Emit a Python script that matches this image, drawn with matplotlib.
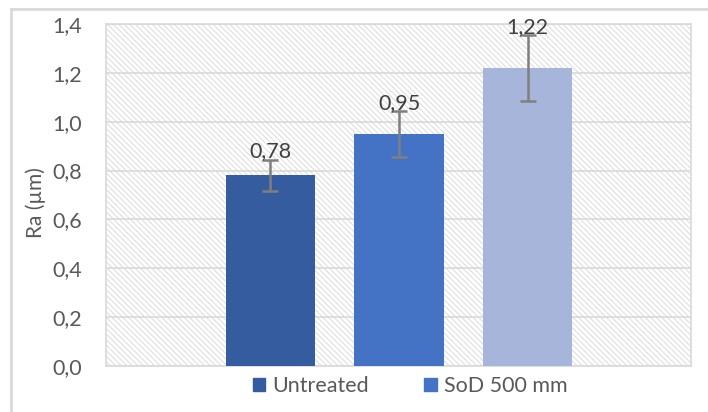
import matplotlib.pyplot as plt
import matplotlib.patches as mpatches
import numpy as np

# values
labels = ["Untreated", "SoD 500 mm", "SoD 300 mm"]
ra_values = [0.78, 0.95, 1.22]
ra_errors = [0.065, 0.095, 0.135]
bar_colors = ["#345C9F", "#4472C4", "#A7B5DB"]
value_labels = ["0,78", "0,95", "1,22"]
yticks = [0.0, 0.2, 0.4, 0.6, 0.8, 1.0, 1.2, 1.4]
ytick_labels = ["0,0", "0,2", "0,4", "0,6", "0,8", "1,0", "1,2", "1,4"]

plt.rcParams['font.family'] = ['Lato', 'DejaVu Sans']
plt.rcParams['hatch.linewidth'] = 0.6
plt.rcParams['hatch.color'] = '#D6D6D6'
text_col = '#595959'

fig = plt.figure(figsize=(7.08, 4.12), dpi=100)
ax = fig.add_axes([106/708, 46/412, 585/708, 342/412])

# outer chart border (top and left visible)
fig.add_artist(plt.Line2D([11/708, 1], [1 - 9/412, 1 - 9/412], transform=fig.transFigure,
                          color='#D9D9D9', lw=2))
fig.add_artist(plt.Line2D([11/708, 11/708], [0, 1 - 9/412], transform=fig.transFigure,
                          color='#D9D9D9', lw=2))

# hatched plot area
ax.patch.set_facecolor('white')
bg = mpatches.Rectangle((0, 0), 1, 1, transform=ax.transAxes, facecolor='white',
                        edgecolor='#D6D6D6', hatch='\\\\\\\\\\\\', lw=0, zorder=0)
ax.add_patch(bg)

x = np.arange(len(ra_values))
bars = ax.bar(x, ra_values, width=0.693, color=bar_colors, zorder=3)
ax.errorbar(x, ra_values, yerr=ra_errors, fmt='none', ecolor='#7F7F7F',
            elinewidth=1.8, capsize=6, capthick=1.8, zorder=4)

for xi, v, e, t in zip(x, ra_values, ra_errors, value_labels):
    ax.text(xi, v + e - 0.008, t, ha='center', va='bottom', fontsize=15.5, color='#404040', zorder=5)

ax.set_xlim(-1.28, 3.272)
ax.set_ylim(0, 1.4)
ax.set_yticks(yticks)
ax.set_yticklabels(ytick_labels, fontsize=15.5, color=text_col)
ax.set_xticks([])
ax.tick_params(axis='y', length=0, pad=17)
ax.yaxis.grid(True, color='#D9D9D9', lw=1.2, zorder=1)
ax.set_axisbelow(True)
for s in ax.spines.values():
    s.set_color('#D9D9D9')
    s.set_linewidth(1.2)

ax.set_ylabel("Ra (µm)", fontsize=15, color=text_col)
ax.yaxis.set_label_coords(-0.103, 0.477)

handles = [mpatches.Patch(color=bar_colors[0]), mpatches.Patch(color=bar_colors[1])]
fig.legend(handles, labels[:2], loc='center', bbox_to_anchor=(410/708, 1 - 386/412),
           ncol=2, frameon=False, fontsize=15.5, handlelength=0.6, handleheight=0.6,
           handletextpad=0.3, columnspacing=2.6, labelcolor=text_col)

plt.savefig('out.png', dpi=100)
